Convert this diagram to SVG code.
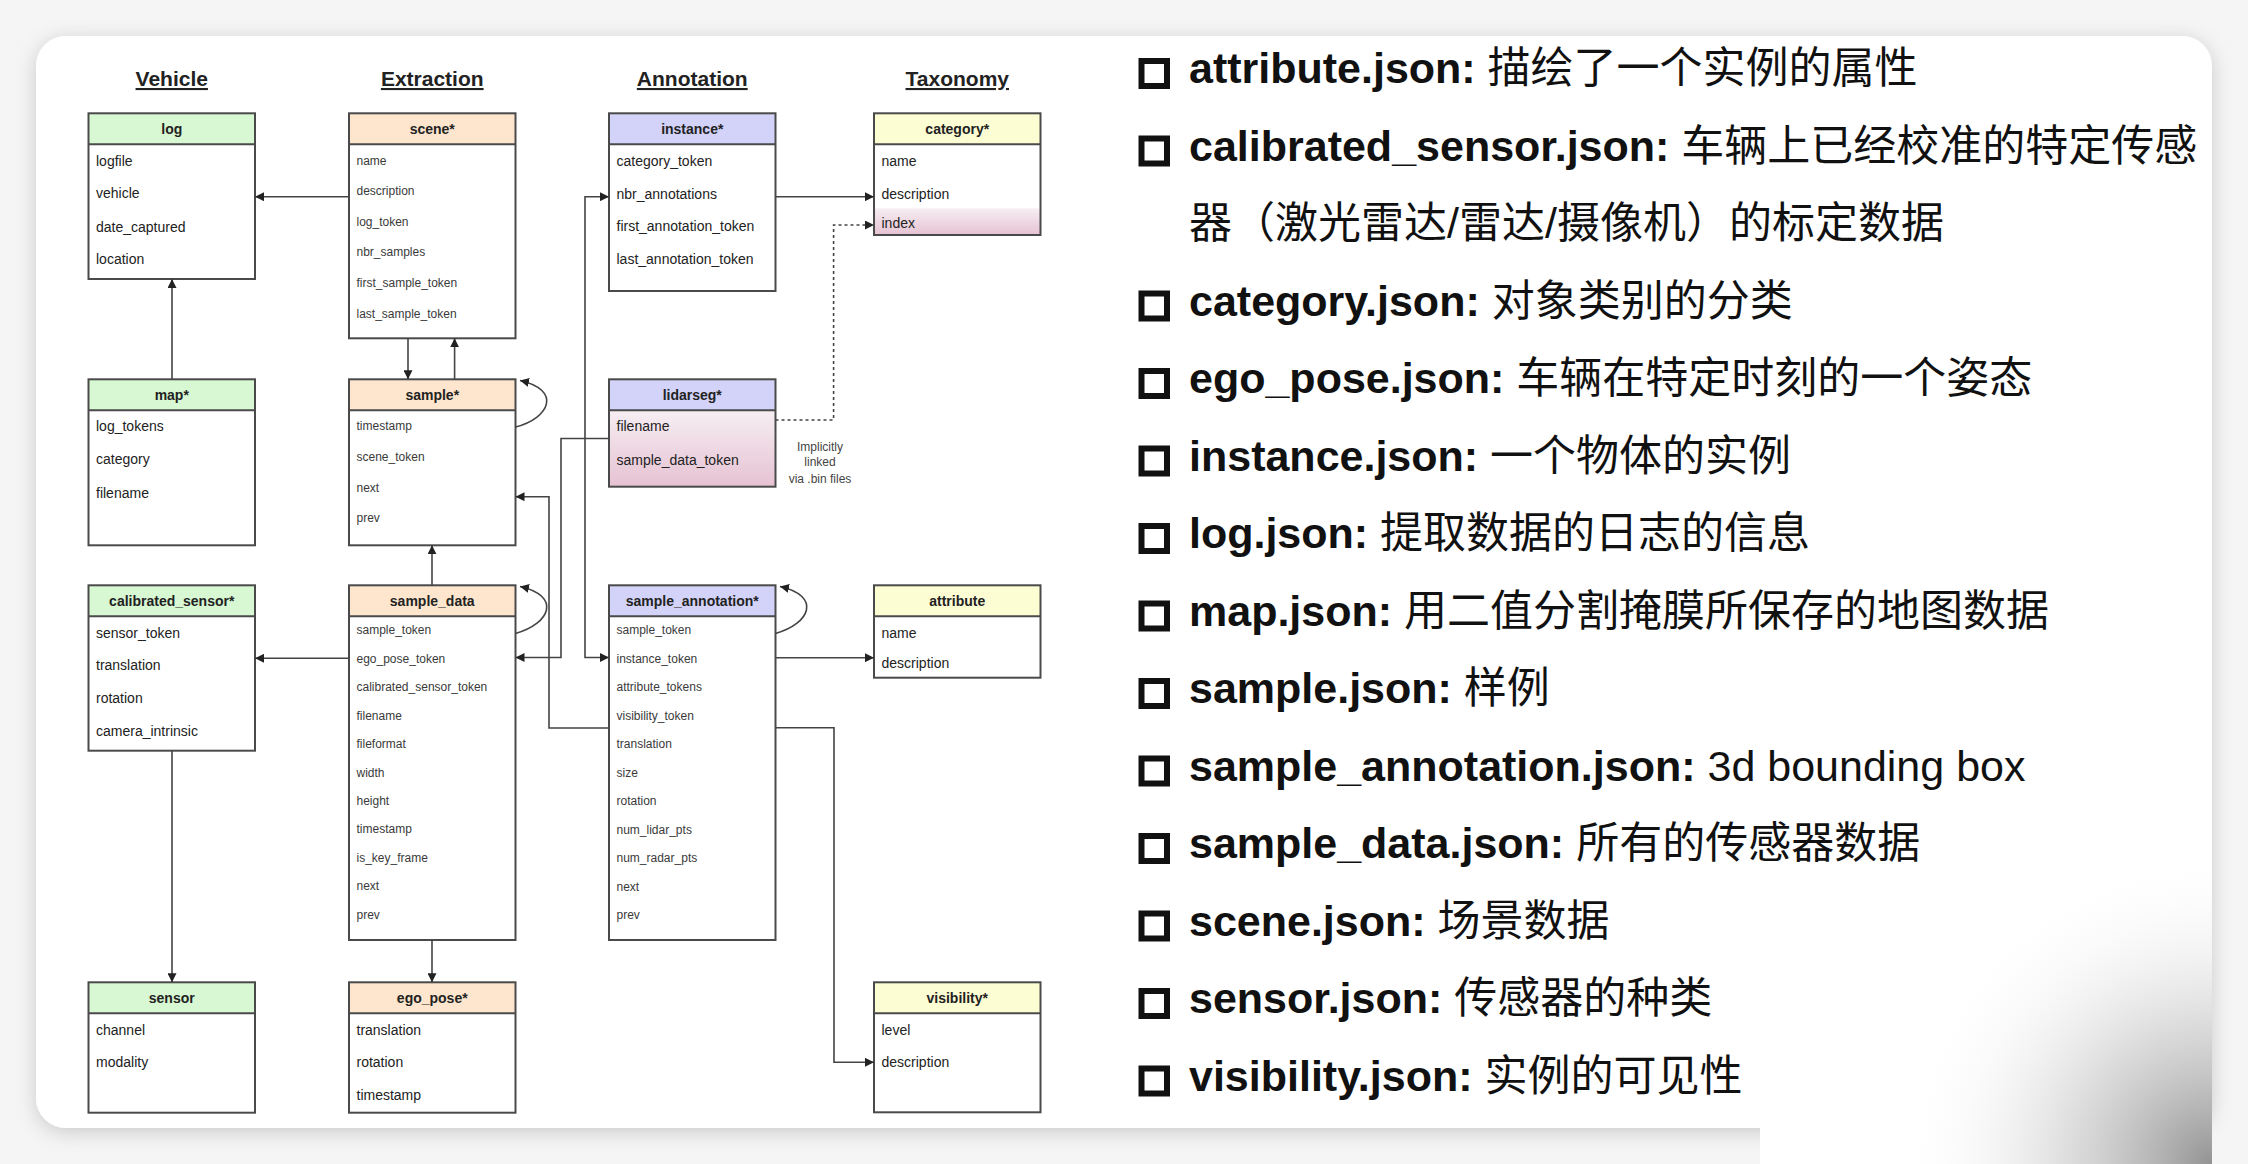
<svg xmlns="http://www.w3.org/2000/svg" width="2248" height="1164" viewBox="0 0 2248 1164">
<style>
.box{fill:none;stroke:#4a4a4a;stroke-width:2}
.div{stroke:#4a4a4a;stroke-width:2}
.veh{fill:#d8f8d3}
.ext{fill:#fde6cd}
.ann{fill:#d3d3fa}
.tax{fill:#fdfdd3}
.h{font-family:"Liberation Sans",Arial,sans-serif;font-size:14px;font-weight:bold;fill:#222;text-anchor:middle}
.f14{font-family:"Liberation Sans",Arial,sans-serif;font-size:14px;fill:#222}
.f12{font-family:"Liberation Sans",Arial,sans-serif;font-size:12px;fill:#3a3a3a}
.col{font-family:"Liberation Sans",Arial,sans-serif;font-size:21px;font-weight:bold;fill:#222;text-anchor:middle;text-decoration:underline}
.note{font-family:"Liberation Sans",Arial,sans-serif;font-size:12px;fill:#444;text-anchor:middle}
.c{fill:none;stroke:#444;stroke-width:1.6}
.a{marker-end:url(#arr)}
.dot{stroke-dasharray:3 3}
.li{font-family:"Liberation Sans","Noto Sans CJK SC",sans-serif;font-size:43px;fill:#111}
.b{font-weight:bold}
.chk{fill:none;stroke:#111;stroke-width:6}
</style>
<defs>
<marker id="arr" viewBox="0 0 10 10" refX="10" refY="5" markerWidth="9" markerHeight="9" markerUnits="userSpaceOnUse" orient="auto-start-reverse">
<path d="M0,0 L10,5 L0,10 z" fill="#222"/>
</marker>
<filter id="sh" x="-5%" y="-5%" width="110%" height="115%">
<feDropShadow dx="0" dy="4" stdDeviation="10" flood-color="#000" flood-opacity="0.18"/>
</filter>
<linearGradient id="pink" x1="0" y1="0" x2="0" y2="1">
<stop offset="0" stop-color="#f6eef3"/>
<stop offset="1" stop-color="#e6c2d2"/>
</linearGradient>
<radialGradient id="corner" gradientUnits="userSpaceOnUse" cx="2212" cy="1164" r="310">
<stop offset="0" stop-color="#808080" stop-opacity="0.85"/>
<stop offset="0.45" stop-color="#b0b0b0" stop-opacity="0.45"/>
<stop offset="1" stop-color="#ffffff" stop-opacity="0"/>
</radialGradient>
</defs>
<rect x="0" y="0" width="2248" height="1164" fill="#f5f5f5"/>
<rect x="36" y="36" width="2176" height="1092" rx="30" fill="#ffffff" filter="url(#sh)"/>

<g id="column-titles">
<text class="col" x="171.75" y="86">Vehicle</text>
<text class="col" x="432.25" y="86">Extraction</text>
<text class="col" x="692.25" y="86">Annotation</text>
<text class="col" x="957.25" y="86">Taxonomy</text>
</g>

<g id="log">
<rect class="veh" x="88.5" y="113.3" width="166.5" height="31"/>
<rect class="box" x="88.5" y="113.3" width="166.5" height="165.7"/>
<line class="div" x1="88.5" y1="144.3" x2="255" y2="144.3"/>
<text class="h" x="171.75" y="133.8">log</text>
<text class="f14" x="96" y="166">logfile</text>
<text class="f14" x="96" y="198.3">vehicle</text>
<text class="f14" x="96" y="231.7">date_captured</text>
<text class="f14" x="96" y="264.3">location</text>
</g>

<g id="map">
<rect class="veh" x="88.5" y="379.3" width="166.5" height="31"/>
<rect class="box" x="88.5" y="379.3" width="166.5" height="166"/>
<line class="div" x1="88.5" y1="410.3" x2="255" y2="410.3"/>
<text class="h" x="171.75" y="399.8">map*</text>
<text class="f14" x="96" y="431">log_tokens</text>
<text class="f14" x="96" y="464">category</text>
<text class="f14" x="96" y="498">filename</text>
</g>

<g id="calibrated_sensor">
<rect class="veh" x="88.5" y="585.3" width="166.5" height="31"/>
<rect class="box" x="88.5" y="585.3" width="166.5" height="165.4"/>
<line class="div" x1="88.5" y1="616.3" x2="255" y2="616.3"/>
<text class="h" x="171.75" y="605.8">calibrated_sensor*</text>
<text class="f14" x="96" y="637.5">sensor_token</text>
<text class="f14" x="96" y="670.2">translation</text>
<text class="f14" x="96" y="703">rotation</text>
<text class="f14" x="96" y="735.7">camera_intrinsic</text>
</g>

<g id="sensor">
<rect class="veh" x="88.5" y="982.3" width="166.5" height="31"/>
<rect class="box" x="88.5" y="982.3" width="166.5" height="130.4"/>
<line class="div" x1="88.5" y1="1013.3" x2="255" y2="1013.3"/>
<text class="h" x="171.75" y="1002.8">sensor</text>
<text class="f14" x="96" y="1034.5">channel</text>
<text class="f14" x="96" y="1067">modality</text>
</g>

<g id="scene">
<rect class="ext" x="349" y="113.3" width="166.5" height="31"/>
<rect class="box" x="349" y="113.3" width="166.5" height="225"/>
<line class="div" x1="349" y1="144.3" x2="515.5" y2="144.3"/>
<text class="h" x="432.25" y="133.8">scene*</text>
<text class="f12" x="356.5" y="164.6">name</text>
<text class="f12" x="356.5" y="195.2">description</text>
<text class="f12" x="356.5" y="225.8">log_token</text>
<text class="f12" x="356.5" y="256.4">nbr_samples</text>
<text class="f12" x="356.5" y="287">first_sample_token</text>
<text class="f12" x="356.5" y="317.6">last_sample_token</text>
</g>

<g id="sample">
<rect class="ext" x="349" y="379.3" width="166.5" height="31"/>
<rect class="box" x="349" y="379.3" width="166.5" height="166"/>
<line class="div" x1="349" y1="410.3" x2="515.5" y2="410.3"/>
<text class="h" x="432.25" y="399.8">sample*</text>
<text class="f12" x="356.5" y="430">timestamp</text>
<text class="f12" x="356.5" y="460.8">scene_token</text>
<text class="f12" x="356.5" y="491.6">next</text>
<text class="f12" x="356.5" y="522.4">prev</text>
</g>

<g id="sample_data">
<rect class="ext" x="349" y="585.3" width="166.5" height="31"/>
<rect class="box" x="349" y="585.3" width="166.5" height="354.7"/>
<line class="div" x1="349" y1="616.3" x2="515.5" y2="616.3"/>
<text class="h" x="432.25" y="605.8">sample_data</text>
<text class="f12" x="356.5" y="634.3">sample_token</text>
<text class="f12" x="356.5" y="662.7">ego_pose_token</text>
<text class="f12" x="356.5" y="691.2">calibrated_sensor_token</text>
<text class="f12" x="356.5" y="719.6">filename</text>
<text class="f12" x="356.5" y="748">fileformat</text>
<text class="f12" x="356.5" y="776.5">width</text>
<text class="f12" x="356.5" y="804.9">height</text>
<text class="f12" x="356.5" y="833.3">timestamp</text>
<text class="f12" x="356.5" y="861.7">is_key_frame</text>
<text class="f12" x="356.5" y="890.2">next</text>
<text class="f12" x="356.5" y="918.6">prev</text>
</g>

<g id="ego_pose">
<rect class="ext" x="349" y="982.3" width="166.5" height="31"/>
<rect class="box" x="349" y="982.3" width="166.5" height="130.4"/>
<line class="div" x1="349" y1="1013.3" x2="515.5" y2="1013.3"/>
<text class="h" x="432.25" y="1002.8">ego_pose*</text>
<text class="f14" x="356.5" y="1034.5">translation</text>
<text class="f14" x="356.5" y="1067">rotation</text>
<text class="f14" x="356.5" y="1099.5">timestamp</text>
</g>

<g id="instance">
<rect class="ann" x="609" y="113.3" width="166.5" height="31"/>
<rect class="box" x="609" y="113.3" width="166.5" height="177.7"/>
<line class="div" x1="609" y1="144.3" x2="775.5" y2="144.3"/>
<text class="h" x="692.25" y="133.8">instance*</text>
<text class="f14" x="616.5" y="166">category_token</text>
<text class="f14" x="616.5" y="198.5">nbr_annotations</text>
<text class="f14" x="616.5" y="231.2">first_annotation_token</text>
<text class="f14" x="616.5" y="263.9">last_annotation_token</text>
</g>

<g id="lidarseg">
<rect fill="url(#pink)" x="609" y="410.3" width="166.5" height="76.4"/>
<rect class="ann" x="609" y="379.3" width="166.5" height="31"/>
<rect class="box" x="609" y="379.3" width="166.5" height="107.4"/>
<line class="div" x1="609" y1="410.3" x2="775.5" y2="410.3"/>
<text class="h" x="692.25" y="399.8">lidarseg*</text>
<text class="f14" x="616.5" y="431">filename</text>
<text class="f14" x="616.5" y="464.5">sample_data_token</text>
</g>

<g id="sample_annotation">
<rect class="ann" x="609" y="585.3" width="166.5" height="31"/>
<rect class="box" x="609" y="585.3" width="166.5" height="354.7"/>
<line class="div" x1="609" y1="616.3" x2="775.5" y2="616.3"/>
<text class="h" x="692.25" y="605.8">sample_annotation*</text>
<text class="f12" x="616.5" y="634.3">sample_token</text>
<text class="f12" x="616.5" y="662.8">instance_token</text>
<text class="f12" x="616.5" y="691.3">attribute_tokens</text>
<text class="f12" x="616.5" y="719.8">visibility_token</text>
<text class="f12" x="616.5" y="748.3">translation</text>
<text class="f12" x="616.5" y="776.8">size</text>
<text class="f12" x="616.5" y="805.3">rotation</text>
<text class="f12" x="616.5" y="833.8">num_lidar_pts</text>
<text class="f12" x="616.5" y="862.3">num_radar_pts</text>
<text class="f12" x="616.5" y="890.8">next</text>
<text class="f12" x="616.5" y="919.3">prev</text>
</g>

<g id="category">
<rect fill="url(#pink)" x="874" y="208.3" width="166.5" height="26.7"/>
<rect class="tax" x="874" y="113.3" width="166.5" height="31"/>
<rect class="box" x="874" y="113.3" width="166.5" height="121.7"/>
<line class="div" x1="874" y1="144.3" x2="1040.5" y2="144.3"/>
<text class="h" x="957.25" y="133.8">category*</text>
<text class="f14" x="881.5" y="166">name</text>
<text class="f14" x="881.5" y="198.5">description</text>
<text class="f14" x="881.5" y="228.3">index</text>
</g>

<g id="attribute">
<rect class="tax" x="874" y="585.3" width="166.5" height="31"/>
<rect class="box" x="874" y="585.3" width="166.5" height="92.4"/>
<line class="div" x1="874" y1="616.3" x2="1040.5" y2="616.3"/>
<text class="h" x="957.25" y="605.8">attribute</text>
<text class="f14" x="881.5" y="637.5">name</text>
<text class="f14" x="881.5" y="668">description</text>
</g>

<g id="visibility">
<rect class="tax" x="874" y="982.3" width="166.5" height="31"/>
<rect class="box" x="874" y="982.3" width="166.5" height="130"/>
<line class="div" x1="874" y1="1013.3" x2="1040.5" y2="1013.3"/>
<text class="h" x="957.25" y="1002.8">visibility*</text>
<text class="f14" x="881.5" y="1034.5">level</text>
<text class="f14" x="881.5" y="1067">description</text>
</g>

<g id="note">
<text class="note" x="820" y="450.5">Implicitly</text>
<text class="note" x="820" y="466">linked</text>
<text class="note" x="820" y="483">via .bin files</text>
</g>

<g id="connectors">
<path class="c a" d="M349,196.7 H255"/>
<path class="c a" d="M172,379.3 V279"/>
<path class="c a" d="M408,338.3 V379.3"/>
<path class="c a" d="M454.6,379.3 V338.3"/>
<path class="c a" d="M515.5,427 C550,418 562,390 520,380.5"/>
<path class="c a" d="M432,585.3 V545.3"/>
<path class="c a" d="M515.5,633.5 C550,624 562,596 520,586.5"/>
<path class="c a" d="M349,658.3 H255"/>
<path class="c a" d="M172,750.7 V982.3"/>
<path class="c a" d="M432,940 V982.3"/>
<path class="c a" d="M775.5,196.7 H874"/>
<path class="c a" d="M609,196.7 H585 V657.5 H609" marker-start="url(#arr)"/>
<path class="c a" d="M609,438.5 H561 V657.5 H515.5"/>
<path class="c a" d="M609,728 H549 V496.7 H515.5"/>
<path class="c a" d="M775.5,633.5 C810,624 822,596 780,586.5"/>
<path class="c a" d="M775.5,657.7 H874"/>
<path class="c a" d="M775.5,727.7 H834 V1062.3 H874"/>
<path class="c a dot" d="M775.5,420 H833.6 V225 H874"/>
</g>

<g id="file-list">
<rect class="chk" x="1141.5" y="61" width="25.5" height="25"/>
<text class="li" x="1189" y="83"><tspan class="b">attribute.json:</tspan> 描绘了一个实例的属性</text>
<rect class="chk" x="1141.5" y="138.5" width="25.5" height="25"/>
<text class="li" x="1189" y="160.5"><tspan class="b">calibrated_sensor.json:</tspan> 车辆上已经校准的特定传感</text>
<text class="li" x="1189" y="238">器（激光雷达/雷达/摄像机）的标定数据</text>
<rect class="chk" x="1141.5" y="293.5" width="25.5" height="25"/>
<text class="li" x="1189" y="315.5"><tspan class="b">category.json:</tspan> 对象类别的分类</text>
<rect class="chk" x="1141.5" y="371" width="25.5" height="25"/>
<text class="li" x="1189" y="393"><tspan class="b">ego_pose.json:</tspan> 车辆在特定时刻的一个姿态</text>
<rect class="chk" x="1141.5" y="448.5" width="25.5" height="25"/>
<text class="li" x="1189" y="470.5"><tspan class="b">instance.json:</tspan> 一个物体的实例</text>
<rect class="chk" x="1141.5" y="526" width="25.5" height="25"/>
<text class="li" x="1189" y="548"><tspan class="b">log.json:</tspan> 提取数据的日志的信息</text>
<rect class="chk" x="1141.5" y="603.5" width="25.5" height="25"/>
<text class="li" x="1189" y="625.5"><tspan class="b">map.json:</tspan> 用二值分割掩膜所保存的地图数据</text>
<rect class="chk" x="1141.5" y="681" width="25.5" height="25"/>
<text class="li" x="1189" y="703"><tspan class="b">sample.json:</tspan> 样例</text>
<rect class="chk" x="1141.5" y="758.5" width="25.5" height="25"/>
<text class="li" x="1189" y="780.5"><tspan class="b">sample_annotation.json:</tspan> 3d bounding box</text>
<rect class="chk" x="1141.5" y="836" width="25.5" height="25"/>
<text class="li" x="1189" y="858"><tspan class="b">sample_data.json:</tspan> 所有的传感器数据</text>
<rect class="chk" x="1141.5" y="913.5" width="25.5" height="25"/>
<text class="li" x="1189" y="935.5"><tspan class="b">scene.json:</tspan> 场景数据</text>
<rect class="chk" x="1141.5" y="991" width="25.5" height="25"/>
<text class="li" x="1189" y="1013"><tspan class="b">sensor.json:</tspan> 传感器的种类</text>
<rect class="chk" x="1141.5" y="1068.5" width="25.5" height="25"/>
<text class="li" x="1189" y="1090.5"><tspan class="b">visibility.json:</tspan> 实例的可见性</text>
</g>

<g id="corner-overlay">
<rect x="1760" y="1004" width="452" height="160" fill="#ffffff"/>
<rect x="1760" y="840" width="452" height="324" fill="url(#corner)"/>
</g>
</svg>
